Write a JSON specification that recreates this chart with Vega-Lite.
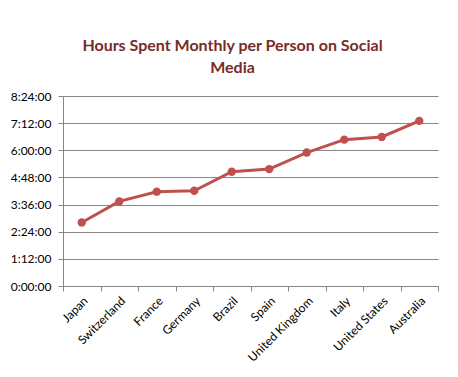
{
  "$schema": "https://vega.github.io/schema/vega-lite/v6.json",
  "width": 375,
  "height": 190,
  "autosize": {"type": "none"},
  "padding": {"left": 63, "top": 96, "right": 20, "bottom": 91},
  "background": "white",
  "title": {
    "text": ["Hours Spent Monthly per Person on Social", "Media"],
    "font": "Lato",
    "fontSize": 16,
    "fontWeight": "bold",
    "color": "#772C2A",
    "anchor": "middle",
    "dx": -18,
    "offset": 14,
    "lineHeight": 22
  },
  "data": {
    "values": [
      {"country": "Japan", "hours": 2.81},
      {"country": "Switzerland", "hours": 3.74},
      {"country": "France", "hours": 4.17},
      {"country": "Germany", "hours": 4.21},
      {"country": "Brazil", "hours": 5.05},
      {"country": "Spain", "hours": 5.17},
      {"country": "United Kingdom", "hours": 5.9},
      {"country": "Italy", "hours": 6.47},
      {"country": "United States", "hours": 6.59},
      {"country": "Australia", "hours": 7.3}
    ]
  },
  "mark": {
    "type": "line",
    "color": "#C0504D",
    "strokeWidth": 3,
    "point": {"filled": true, "size": 70, "color": "#C0504D"}
  },
  "encoding": {
    "x": {
      "field": "country",
      "type": "nominal",
      "sort": null,
      "scale": {"type": "band", "paddingInner": 0, "paddingOuter": 0},
      "axis": {
        "title": null,
        "tickBand": "extent",
        "domainColor": "#868686",
        "tickColor": "#868686",
        "tickSize": 5,
        "labelAngle": -45,
        "labelAlign": "right",
        "labelBaseline": "top",
        "labelFont": "Lato",
        "labelFontSize": 12,
        "labelColor": "#000000",
        "labelPadding": 4,
        "grid": false
      }
    },
    "y": {
      "field": "hours",
      "type": "quantitative",
      "scale": {"domain": [0, 8.4], "nice": false, "zero": true},
      "axis": {
        "title": null,
        "values": [0, 1.2, 2.4, 3.6, 4.8, 6, 7.2, 8.4],
        "labelExpr": "floor(round(datum.value*60)/60) + ':' + (round(datum.value*60)%60 < 10 ? '0' : '') + (round(datum.value*60)%60) + ':00'",
        "domain": true,
        "domainColor": "#868686",
        "tickColor": "#868686",
        "tickSize": 5,
        "grid": true,
        "gridColor": "#868686",
        "gridOpacity": 1,
        "labelFont": "Lato",
        "labelFontSize": 12,
        "labelColor": "#000000",
        "labelPadding": 7
      }
    }
  },
  "config": {"view": {"stroke": null}}
}
